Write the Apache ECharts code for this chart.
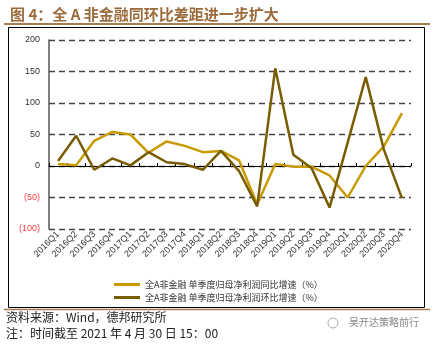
<!DOCTYPE html>
<html><head><meta charset="utf-8">
<script src="https://cdn.jsdelivr.net/npm/echarts@6/dist/echarts.min.js"></script>
<style>html,body{margin:0;padding:0;background:#fff}#c{width:433px;height:345px}</style>
</head><body><div id="c"></div>
<script>
const categories = ['2016Q1','2016Q2','2016Q3','2016Q4','2017Q1','2017Q2','2017Q3','2017Q4','2018Q1','2018Q2','2018Q3','2018Q4','2019Q1','2019Q2','2019Q3','2019Q4','2020Q1','2020Q2','2020Q3','2020Q4'];
const yoyName = '全A非金融 单季度归母净利润同比增速（%）';
const qoqName = '全A非金融 单季度归母净利润环比增速（%）';
const yoyValues = [3, 1, 40, 54, 50, 21, 39, 32, 22, 24, 9, -61, 3, -1, -1, -15, -50, 0, 31, 84];
const qoqValues = [8, 48, -6, 12, 1, 22, 6, 3, -6, 24, -8, -64, 155, 18, -3, -66, 37, 141, 26, -51];
const titleText = '图 4：全 A 非金融同环比差距进一步扩大';
const sourceText = '资料来源：Wind，德邦研究所';
const noteText = '注：时间截至 2021 年 4 月 30 日 15：00';
const watermark = '吴开达策略前行';

const chart = echarts.init(document.getElementById('c'));
const cjk = '"Noto Sans CJK SC", sans-serif';
chart.setOption({
  animation: false,
  title: { text: titleText, left: 5, top: 2, textStyle: { fontFamily: cjk, fontSize: 15, fontWeight: 'bold', color: '#9C6B3C' } },
  grid: { left: 49, right: 22, top: 40, bottom: 116 },
  legend: {
    orient: 'vertical', left: 109, top: 275, itemWidth: 26, itemHeight: 3, itemGap: 4,
    icon: 'rect',
    textStyle: { fontFamily: cjk, fontSize: 9, color: '#333' },
    data: [yoyName, qoqName]
  },
  xAxis: [{
    type: 'category', data: categories, position: 'bottom', boundaryGap: true,
    axisLine: { show: false, onZero: false }, axisTick: { show: false },
    axisLabel: { rotate: 45, fontSize: 9, color: '#333', margin: 4, interval: 0, fontFamily: 'Liberation Sans, Arial' }
  }, {
    type: 'category', data: categories, position: 'bottom', boundaryGap: true,
    axisLine: { show: true, onZero: true, lineStyle: { color: '#000', width: 1 } },
    axisTick: { show: true, inside: true, length: 3, interval: 0, lineStyle: { color: '#000' } },
    axisLabel: { show: false }
  }],
  yAxis: {
    type: 'value', min: -100, max: 200, interval: 50,
    axisLine: { show: true, lineStyle: { color: '#555', width: 1.5 } },
    axisTick: { show: false },
    axisLabel: {
      fontSize: 9, color: function (v) { return Number(v) < 0 ? '#FF4040' : '#333'; },
      fontFamily: 'Liberation Sans, Arial', margin: 9,
      formatter: function (v) { return v < 0 ? '(' + (-v) + ')' : String(v); }
    },
    splitLine: { show: true, lineStyle: { color: '#444', type: [6, 4], width: 1.3 } }
  },
  series: [
    { name: yoyName, type: 'line', xAxisIndex: 0, data: yoyValues, symbol: 'none', lineStyle: { color: '#C99A00', width: 2.5 }, itemStyle: { color: '#C99A00' }, z: 3 },
    { name: qoqName, type: 'line', xAxisIndex: 0, data: qoqValues, symbol: 'none', lineStyle: { color: '#7A5C00', width: 2.5 }, itemStyle: { color: '#7A5C00' }, z: 4 }
  ],
  graphic: [
    { type: 'line', shape: { x1: 4, y1: 24, x2: 430, y2: 24 }, style: { stroke: '#A67C52', lineWidth: 2 } },
    { type: 'rect', shape: { x: 8.5, y: 27.5, width: 416, height: 280 }, style: { fill: 'none', stroke: '#000', lineWidth: 1 } },
    { type: 'line', shape: { x1: 4, y1: 309.5, x2: 430, y2: 309.5 }, style: { stroke: '#A67C52', lineWidth: 1.5 } },
    { type: 'text', left: 6, top: 311, style: { text: sourceText, font: '12px ' + cjk, fill: '#222' } },
    { type: 'text', left: 6, top: 327, style: { text: noteText, font: '12px ' + cjk, fill: '#222' } },
    { type: 'text', left: 349, top: 317, style: { text: watermark, font: '10px ' + cjk, fill: '#888' } },
    { type: 'circle', shape: { cx: 333, cy: 323, r: 5 }, style: { fill: 'none', stroke: '#aaa', lineWidth: 1 } }
  ]
});
</script></body></html>
